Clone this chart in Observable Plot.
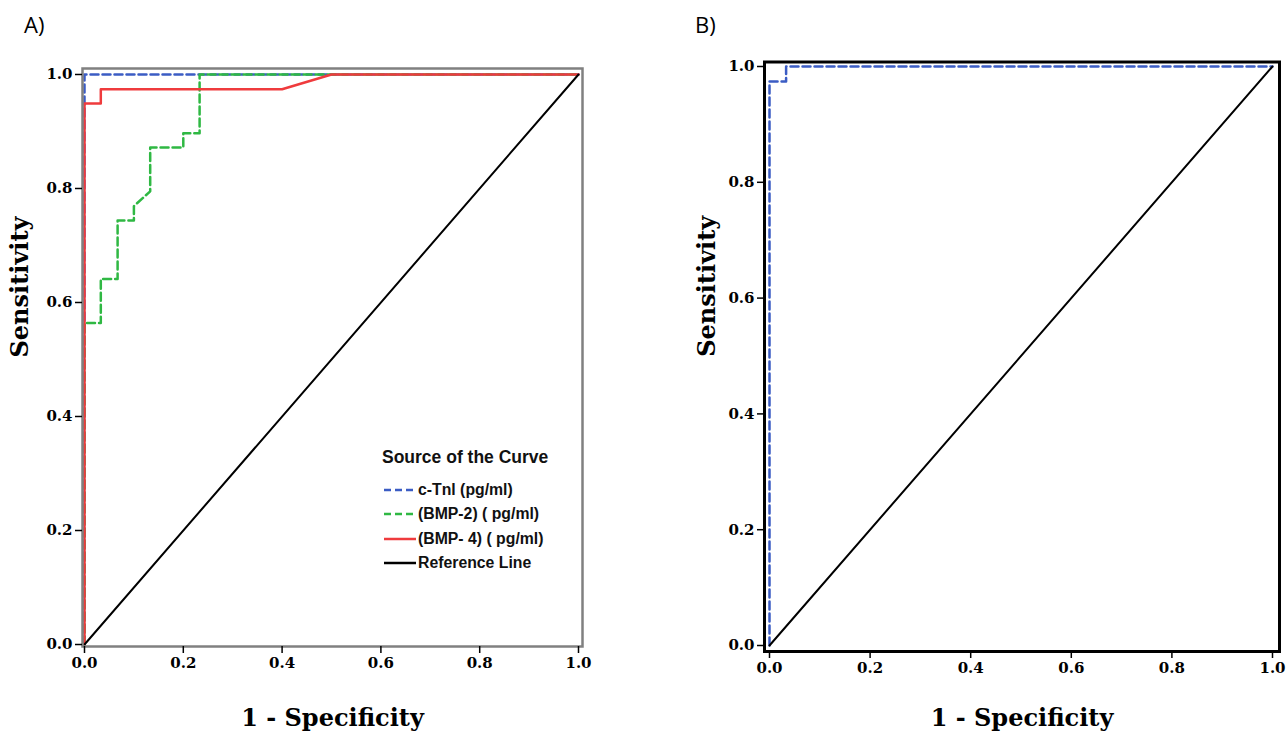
<!DOCTYPE html>
<html>
<head>
<meta charset="utf-8">
<script src="https://cdn.jsdelivr.net/npm/d3@7"></script>
<script src="https://cdn.jsdelivr.net/npm/@observablehq/plot@0.6"></script>
<style>
html, body { margin: 0; padding: 0; background: #fff; }
#root { position: relative; width: 1286px; height: 733px; overflow: hidden; background: #fff; }
.panel { position: absolute; top: 0; }
.plabel { position: absolute; z-index: 5; font-family: "Open Sans", sans-serif; font-size: 22px; color: #000; line-height: 1; }
.legend { position: absolute; z-index: 5; left: 382px; top: 447px; font-family: "Liberation Sans", Arial, sans-serif; font-weight: bold; color: #111; }
.legend .title { font-size: 17.5px; height: 31px; }
.legend .row { display: flex; align-items: center; height: 24.3px; font-size: 15.8px; }
.legend svg { margin-right: 2px; }
</style>
</head>
<body>
<div id="root">
  <div id="pa" class="panel" style="left:0px;"></div>
  <div id="pb" class="panel" style="left:643px;"></div>
  <div class="plabel" style="left:24px; top:13px;">A)</div>
  <div class="plabel" style="left:695px; top:13px;">B)</div>
  <div class="legend" id="legend"></div>
</div>
<script>
// ---------- data ----------
const tickValues = [0, 0.2, 0.4, 0.6, 0.8, 1.0];
const seriesNames = ["c-Tnl (pg/ml)", "(BMP-2) ( pg/ml)", "(BMP- 4) ( pg/ml)", "Reference Line"];
const seriesColors = ["#3b5cc4", "#2fb843", "#ef3b3d", "#000000"];
const seriesDash = ["8,4", "8,4", null, null];
const legendTitle = "Source of the Curve";
const xLabel = "1 - Specificity";
const yLabel = "Sensitivity";

// Panel A
const ctniA_fpr = [0, 0, 1];
const ctniA_tpr = [0, 1, 1];
const bmp2A_fpr = [0, 0, 0.033, 0.033, 0.067, 0.067, 0.1, 0.1, 0.133, 0.133, 0.2, 0.2, 0.233, 0.233, 1];
const bmp2A_tpr = [0, 0.564, 0.564, 0.641, 0.641, 0.744, 0.744, 0.769, 0.795, 0.872, 0.872, 0.897, 0.897, 1, 1];
const bmp4A_fpr = [0, 0, 0.033, 0.033, 0.4, 0.5, 1];
const bmp4A_tpr = [0, 0.949, 0.949, 0.974, 0.974, 1, 1];

// Panel B
const ctniB_fpr = [0, 0, 0.033, 0.033, 1];
const ctniB_tpr = [0, 0.974, 0.974, 1, 1];

// Reference line
const ref_fpr = [0, 1];
const ref_tpr = [0, 1];

// ---------- helpers ----------
const pts = (xs, ys) => xs.map((x, i) => ({x, y: ys[i]}));
const fmt = d3.format(".1f");
const serif = "DejaVu Serif";

function axes(frameStroke, frameWidth, yLabelDx, xLabelDy) {
  return [
    Plot.frame({stroke: frameStroke, strokeWidth: frameWidth}),
    Plot.axisX(tickValues, {anchor: "bottom", tickSize: 7, tickPadding: 4, tickFormat: fmt, label: null,
      stroke: "#000", strokeWidth: 1.5, fontFamily: serif, fontWeight: "bold", fontSize: 15}),
    Plot.axisY(tickValues, {anchor: "left", tickSize: 7, tickPadding: 3, tickFormat: fmt, label: null,
      stroke: "#000", strokeWidth: 1.5, fontFamily: serif, fontWeight: "bold", fontSize: 15}),
    Plot.text([xLabel], {text: d => d, frameAnchor: "bottom", dy: xLabelDy, fontFamily: serif, fontWeight: "bold", fontSize: 24, fill: "#000"}),
    Plot.text([yLabel], {text: d => d, frameAnchor: "left", dx: yLabelDx, rotate: -90, fontFamily: serif, fontWeight: "bold", fontSize: 24, fill: "#000"})
  ];
}

function lineMark(data, i, w) {
  const o = {x: "x", y: "y", stroke: seriesColors[i], strokeWidth: w, curve: "linear"};
  if (seriesDash[i]) o.strokeDasharray = seriesDash[i];
  return Plot.line(data, o);
}

// ---------- Panel A ----------
const plotA = Plot.plot({
  width: 643, height: 733,
  marginLeft: 82, marginRight: 61, marginTop: 68, marginBottom: 87,
  x: {domain: [-0.00405, 1.0081]},
  y: {domain: [-0.0035, 1.0105]},
  style: {background: "white", color: "#000", fontFamily: serif},
  marks: [
    lineMark(pts(ctniA_fpr, ctniA_tpr), 0, 2.5),
    lineMark(pts(bmp2A_fpr, bmp2A_tpr), 1, 2.5),
    lineMark(pts(bmp4A_fpr, bmp4A_tpr), 2, 2.5),
    lineMark(pts(ref_fpr, ref_tpr), 3, 2),
    ...axes("#808080", 2.5, -62, 79)
  ]
});
document.getElementById("pa").appendChild(plotA);

// ---------- Panel B ----------
const plotB = Plot.plot({
  width: 643, height: 733,
  marginLeft: 121, marginRight: 7, marginTop: 61.5, marginBottom: 82,
  x: {domain: [-0.00994, 1.01392]},
  y: {domain: [-0.01036, 1.00777]},
  style: {background: "white", color: "#000", fontFamily: serif},
  marks: [
    lineMark(pts(ctniB_fpr, ctniB_tpr), 0, 2.5),
    lineMark(pts(ref_fpr, ref_tpr), 3, 2),
    ...axes("#000", 3, -57, 74)
  ]
});
document.getElementById("pb").appendChild(plotB);

// ---------- Legend (panel A) ----------
const lg = document.getElementById("legend");
const t = document.createElement("div");
t.className = "title";
t.textContent = legendTitle;
lg.appendChild(t);
seriesNames.forEach((name, i) => {
  const row = document.createElement("div");
  row.className = "row";
  const ns = "http://www.w3.org/2000/svg";
  const s = document.createElementNS(ns, "svg");
  s.setAttribute("width", "34"); s.setAttribute("height", "10");
  const l = document.createElementNS(ns, "line");
  l.setAttribute("x1", "2"); l.setAttribute("x2", "34");
  l.setAttribute("y1", "5"); l.setAttribute("y2", "5");
  l.setAttribute("stroke", seriesColors[i]);
  l.setAttribute("stroke-width", "2.5");
  if (seriesDash[i]) l.setAttribute("stroke-dasharray", "7,4");
  s.appendChild(l);
  row.appendChild(s);
  const sp = document.createElement("span");
  sp.textContent = name;
  row.appendChild(sp);
  lg.appendChild(row);
});
</script>
</body>
</html>
